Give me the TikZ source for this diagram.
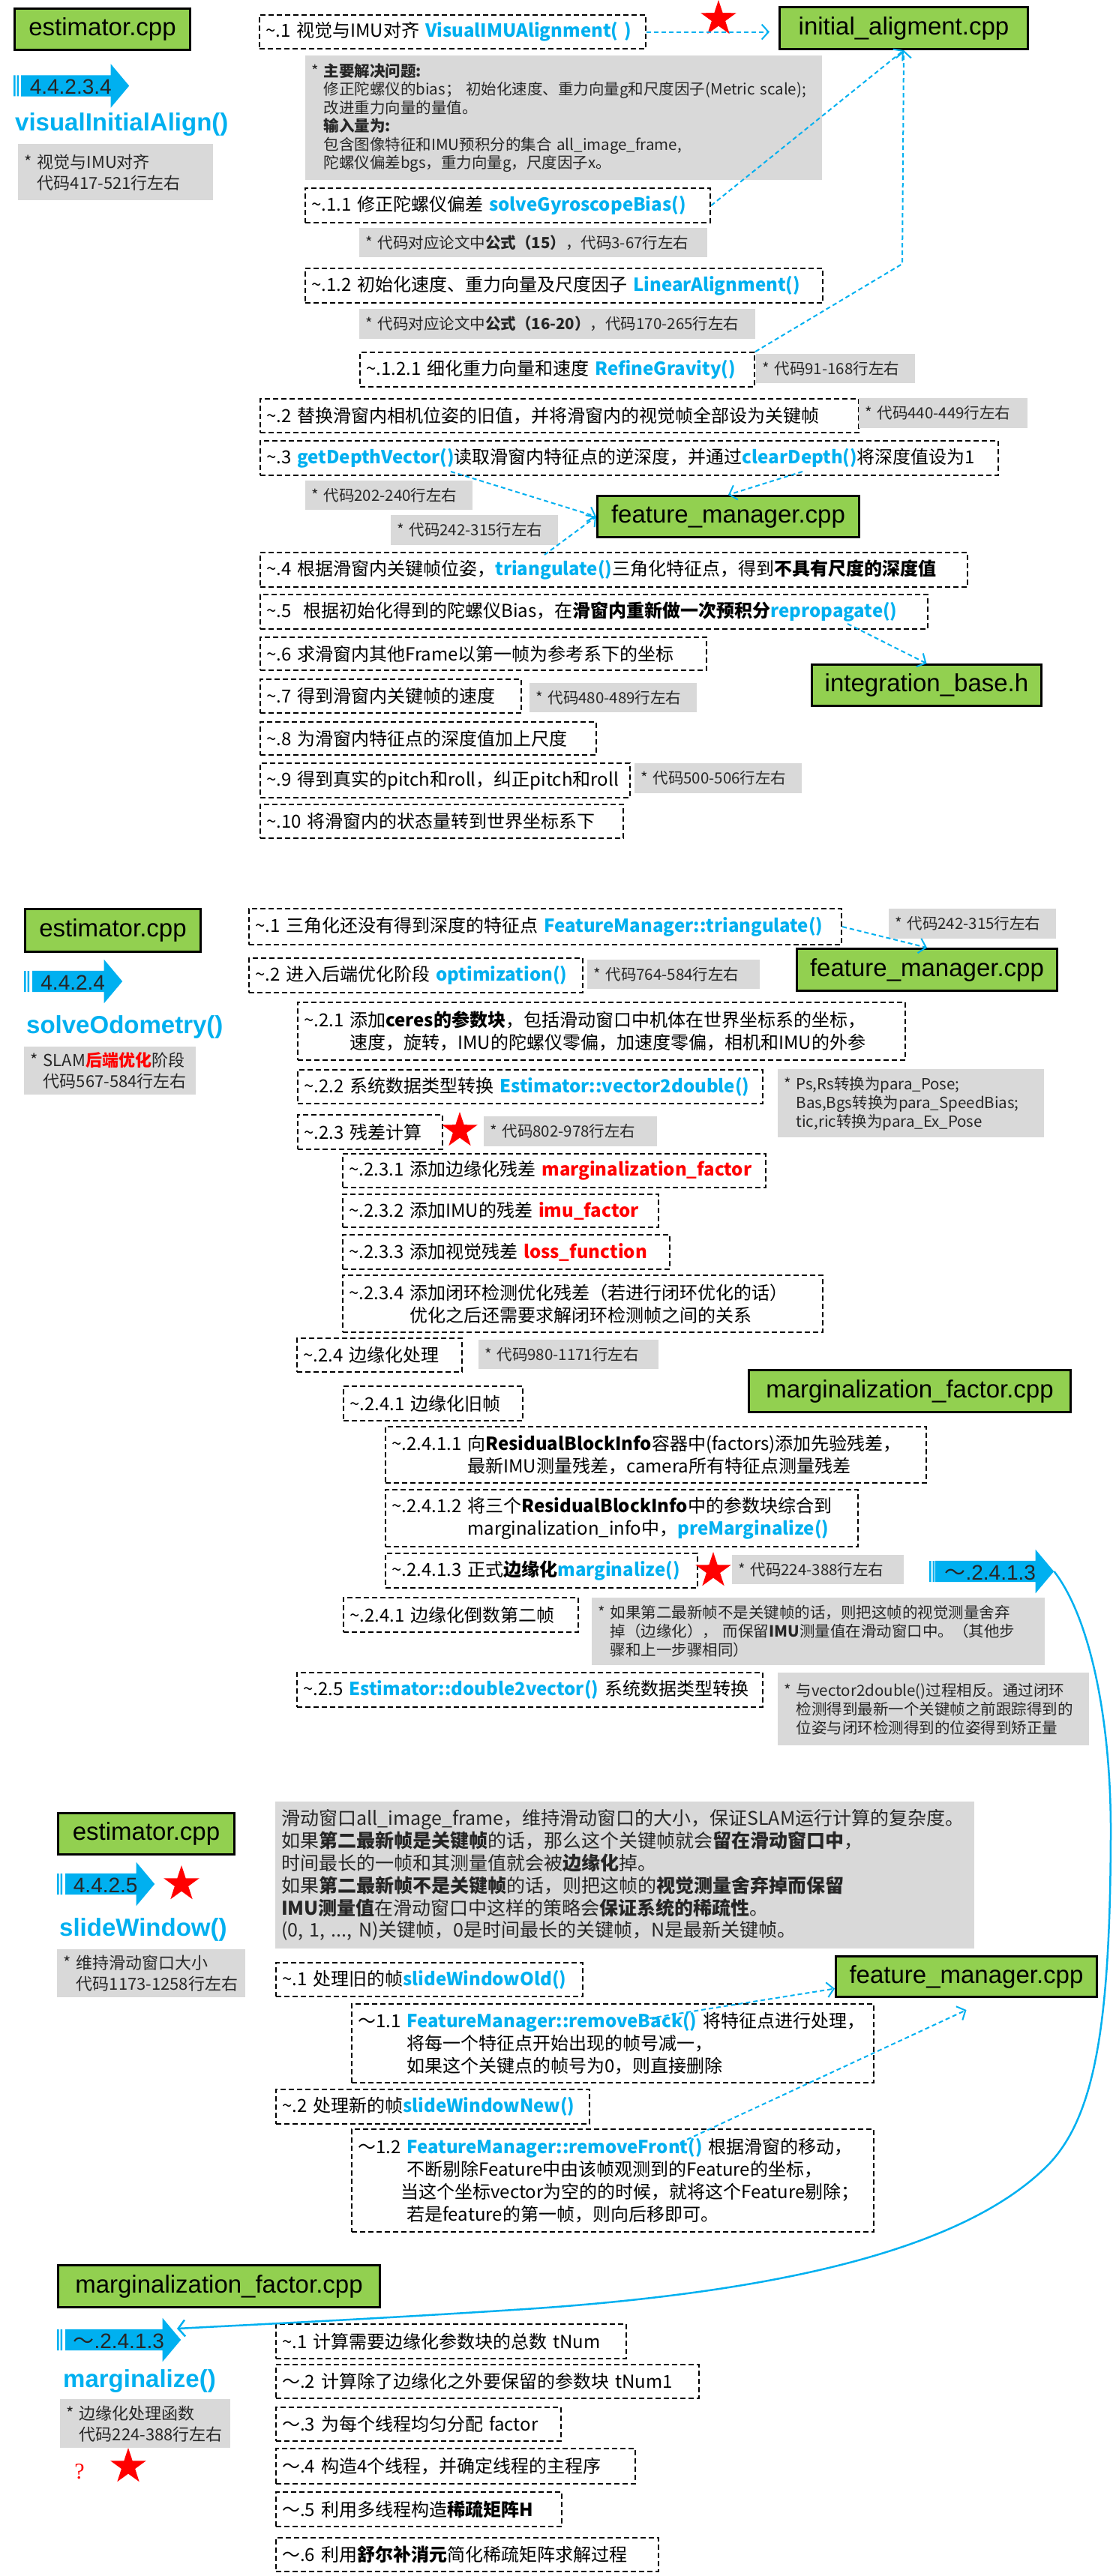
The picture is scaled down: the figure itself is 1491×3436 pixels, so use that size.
\documentclass[tikz,border=0pt]{standalone}
\usepackage{fontspec}
\setmainfont{Noto Sans CJK SC}
\newfontfamily\arialfont{Liberation Sans}
\newfontfamily\qmarkfont{Liberation Serif}
\usetikzlibrary{
  shapes.geometric,
  shapes.arrows,
  arrows.meta,
  positioning,
  calc
}
\definecolor{filegreen}{RGB}{146,208,80}
\definecolor{fnblue}{RGB}{0,176,240}
\definecolor{notegray}{RGB}{217,217,217}
\newcommand{\fname}[1]{\textcolor{fnblue}{\textbf{#1}}}
\newcommand{\rname}[1]{\textcolor{red}{\textbf{#1}}}
\newcommand{\tld}{\textasciitilde}

\begin{document}
\begin{tikzpicture}[
  x=1pt, y=-1pt,
  filebox/.style 2 args={
    draw, line width=3pt, fill=filegreen, anchor=north west,
    minimum width=#1pt, minimum height=#2pt, inner sep=0pt,
    font=\arialfont\fontsize{33}{36}\selectfont
  },
  stepbox/.style={
    draw, line width=2.2pt, dash pattern=on 7pt off 4pt,
    anchor=north west, align=left, inner xsep=8pt, inner ysep=0pt,
    text width=#1pt, minimum height=45pt,
    font=\fontsize{24}{30}\selectfont
  },
  notebox/.style={
    fill=notegray, anchor=north west, align=left,
    inner xsep=8pt, inner ysep=0pt, text width=#1pt, minimum height=39pt,
    text=black!85, font=\fontsize{20.5}{25}\selectfont
  },
  sidenote/.style={notebox=#1, font=\fontsize{22}{28}\selectfont},
  secarrow/.style={
    single arrow, fill=fnblue, anchor=tail, minimum height=#1pt,
    single arrow head extend=15pt, single arrow tip angle=100,
    text height=22pt, text depth=0pt, inner ysep=3pt, inner xsep=4pt,
    text=black!85, font=\arialfont\fontsize{28}{30}\selectfont
  },
  sectitle/.style={
    anchor=west, inner sep=0pt, text=fnblue,
    font=\arialfont\bfseries\fontsize{33}{36}\selectfont
  },
  redstar/.style={
    star, star points=5, star point ratio=2.6, fill=red,
    inner sep=0pt, minimum size=50pt
  },
  conn/.style={
    draw=fnblue, line width=2pt, dash pattern=on 6pt off 4pt,
    -{Straight Barb[length=9pt,width=20pt]}
  },
  jump/.style={
    draw=fnblue, line width=2.5pt,
    -{Straight Barb[length=9pt,width=22pt]}
  }
]
  \path[fill=white, use as bounding box] (0,0) rectangle (1491,3436);

  \node[filebox={234}{55}] (est1) at (18,10) {estimator.cpp};
  \fill[fnblue] (18,100.5) rectangle (20.5,128.5) (22.5,100.5) rectangle (25,128.5);
  \node[secarrow=144] (sec1) at (28,114.5) {4.4.2.3.4};
  \node[sectitle] (title1) at (20,166) {visualInitialAlign()};
  \node[sidenote=244, minimum height=75pt] (side1) at (24,192) {* 视觉与IMU对齐\\\hphantom{*\ }代码417-521行左右};

  \node[stepbox=499] (a1) at (345,19) {\tld.1 视觉与IMU对齐 \fname{VisualIMUAlignment( )}};
  \node[redstar] (star1) at (958,25) {};
  \node[filebox={331}{56}] (initial) at (1038,8) {initial\_aligment.cpp};
  \node[notebox=673, minimum height=166pt, font=\fontsize{20.5}{24.5}\selectfont] (goal1) at (407,74) {* \textbf{主要解决问题:}\\
    \hphantom{*\ }修正陀螺仪的bias； 初始化速度、重力向量g和尺度因子(Metric scale);\\
    \hphantom{*\ }改进重力向量的量值。\\
    \hphantom{*\ }\textbf{输入量为:}\\
    \hphantom{*\ }包含图像特征和IMU预积分的集合 all\_image\_frame,\\
    \hphantom{*\ }陀螺仪偏差bgs，重力向量g，尺度因子x。};
  \node[stepbox=524, minimum height=46pt] (a11) at (406,250) {\tld.1.1 修正陀螺仪偏差 \fname{solveGyroscopeBias()}};
  \node[notebox=448] (c11) at (479,304) {* 代码对应论文中\textbf{公式（15）}，代码3-67行左右};
  \node[stepbox=674, minimum height=46pt] (a12) at (406,357) {\tld.1.2 初始化速度、重力向量及尺度因子 \fname{LinearAlignment()}};
  \node[notebox=512, minimum height=40pt] (c12) at (479,412) {* 代码对应论文中\textbf{公式（16-20）}，代码170-265行左右};
  \node[stepbox=510, minimum height=46pt] (a121) at (479,469) {\tld.1.2.1 细化重力向量和速度 \fname{RefineGravity()}};
  \node[notebox=196] (c121) at (1008,472) {* 代码91-168行左右};
  \node[stepbox=782] (a2) at (346,531) {\tld.2 替换滑窗内相机位姿的旧值，并将滑窗内的视觉帧全部设为关键帧};
  \node[notebox=209, minimum height=40pt] (c2) at (1145,531) {* 代码440-449行左右};
  \node[stepbox=968, minimum height=46pt] (a3) at (346,587) {\tld.3 \fname{getDepthVector()}读取滑窗内特征点的逆深度，并通过\fname{clearDepth()}将深度值设为1};
  \node[notebox=207] (c3a) at (407,641) {* 代码202-240行左右};
  \node[notebox=207, minimum height=40pt] (c3b) at (521,687) {* 代码242-315行左右};
  \node[filebox={349}{55}] (feat1) at (795,660) {feature\_manager.cpp};
  \node[stepbox=927, minimum height=46pt] (a4) at (346,736) {\tld.4 根据滑窗内关键帧位姿，\fname{triangulate()}三角化特征点，得到\textbf{不具有尺度的深度值}};
  \node[stepbox=874, minimum height=46pt] (a5) at (346,792) {\tld.5 \ 根据初始化得到的陀螺仪Bias，在\textbf{滑窗内重新做一次预积分}\fname{repropagate()}};
  \node[filebox={306}{55}] (integ) at (1081,885) {integration\_base.h};
  \node[stepbox=579, minimum height=44pt] (a6) at (346,849) {\tld.6 求滑窗内其他Frame以第一帧为参考系下的坐标};
  \node[stepbox=332] (a7) at (346,905) {\tld.7 得到滑窗内关键帧的速度};
  \node[notebox=207] (c7) at (706,911) {* 代码480-489行左右};
  \node[stepbox=432, minimum height=44pt] (a8) at (346,962) {\tld.8 为滑窗内特征点的深度值加上尺度};
  \node[stepbox=477, minimum height=46pt] (a9) at (346,1017) {\tld.9 得到真实的pitch和roll，纠正pitch和roll};
  \node[notebox=207, minimum height=40pt] (c9) at (846,1018) {* 代码500-506行左右};
  \node[stepbox=468] (a10) at (346,1072) {\tld.10 将滑窗内的状态量转到世界坐标系下};

  \coordinate (bend1) at (1203,352);
  \coordinate (fromgdv) at (601,629);
  \coordinate (fromcd) at (1070,629);
  \coordinate (fromtri) at (726,740);
  \coordinate (fromrep) at (1130,832);
  \draw[conn, shorten >=12pt] (a1.east) -- (a1.east -| initial.west);
  \draw[conn] (a11.east) -- (initial.south);
  \draw[conn] (a121.north east) -- (bend1) -- (initial.south);
  \draw[conn] (fromgdv) -- (feat1.west);
  \draw[conn] (fromtri) -- (feat1.west);
  \draw[conn] (fromcd) -- (feat1.north);
  \draw[conn] (fromrep) -- (integ.north);

  \node[filebox={234}{57}] (est2) at (32,1211) {estimator.cpp};
  \fill[fnblue] (32,1295) rectangle (34.5,1323) (36.5,1295) rectangle (39,1323);
  \node[secarrow=120] (sec2) at (43,1309) {4.4.2.4};
  \node[sectitle] (title2) at (35,1370) {solveOdometry()};
  \node[sidenote=213, minimum height=64pt] (side2) at (32,1396) {* SLAM\textcolor{red}{\textbf{后端优化}}阶段\\\hphantom{*\ }代码567-584行左右};

  \node[stepbox=774, minimum height=48pt] (b1) at (331,1211) {\tld.1 三角化还没有得到深度的特征点 \fname{FeatureManager::triangulate()}};
  \node[notebox=207, minimum height=40pt] (d1) at (1185,1212) {* 代码242-315行左右};
  \node[filebox={347}{56}] (feat2) at (1061,1264) {feature\_manager.cpp};
  \node[stepbox=429, minimum height=46pt] (b2) at (331,1277) {\tld.2 进入后端优化阶段 \fname{optimization()}};
  \node[notebox=214] (d2) at (783,1280) {* 代码764-584行左右};
  \node[stepbox=794, minimum height=77pt] (b21) at (396,1336) {\tld.2.1 添加\textbf{ceres的参数块}，包括滑动窗口中机体在世界坐标系的坐标，\\
    \hphantom{\tld.2.1\ }速度，旋转，IMU的陀螺仪零偏，加速度零偏，相机和IMU的外参};
  \node[stepbox=604] (b22) at (396,1426) {\tld.2.2 系统数据类型转换 \fname{Estimator::vector2double()}};
  \node[notebox=339, minimum height=91pt] (d22) at (1037,1426) {* Ps,Rs转换为para\_Pose;\\
    \hphantom{*\ }Bas,Bgs转换为para\_SpeedBias;\\
    \hphantom{*\ }tic,ric转换为para\_Ex\_Pose};
  \node[stepbox=177, minimum height=46pt] (b23) at (396,1486) {\tld.2.3 残差计算};
  \node[redstar] (star2) at (613,1508) {};
  \node[notebox=215, minimum height=40pt] (d23) at (645,1489) {* 代码802-978行左右};
  \node[stepbox=548] (b231) at (456,1538) {\tld.2.3.1 添加边缘化残差 \rname{marginalization\_factor}};
  \node[stepbox=405, minimum height=44pt] (b232) at (456,1592) {\tld.2.3.2 添加IMU的残差 \rname{imu\_factor}};
  \node[stepbox=420, minimum height=46pt] (b233) at (456,1646) {\tld.2.3.3 添加视觉残差 \rname{loss\_function}};
  \node[stepbox=624, minimum height=76pt] (b234) at (456,1700) {\tld.2.3.4 添加闭环检测优化残差（若进行闭环优化的话）\\
    \hphantom{\tld.2.3.4\ }优化之后还需要求解闭环检测帧之间的关系};
  \node[stepbox=204] (b24) at (395,1784) {\tld.2.4 边缘化处理};
  \node[notebox=224] (d24) at (638,1787) {* 代码980-1171行左右};
  \node[filebox={429}{56}] (marg2) at (997,1826) {marginalization\_factor.cpp};
  \node[stepbox=223, minimum height=46pt] (b241) at (457,1848) {\tld.2.4.1 边缘化旧帧};
  \node[stepbox=705, minimum height=75pt] (b2411) at (513,1902) {\tld.2.4.1.1 向\textbf{ResidualBlockInfo}容器中(factors)添加先验残差，\\
    \hphantom{\tld.2.4.1.1\ }最新IMU测量残差，camera所有特征点测量残差};
  \node[stepbox=614, minimum height=76pt] (b2412) at (513,1986) {\tld.2.4.1.2 将三个\textbf{ResidualBlockInfo}中的参数块综合到\\
    \hphantom{\tld.2.4.1.2\ }marginalization\_info中，\fname{preMarginalize()}};
  \node[stepbox=400, minimum height=46pt] (b2413) at (513,2071) {\tld.2.4.1.3 正式\textbf{边缘化}\fname{marginalize()}};
  \node[redstar] (star3) at (951,2095) {};
  \node[notebox=213] (d2413) at (976,2074) {* 代码224-388行左右};
  \fill[fnblue] (1239,2082) rectangle (1241.5,2110) (1243.5,2082) rectangle (1246,2110);
  \node[secarrow=158] (jumpfrom) at (1247,2096) {{\normalfont ～}.2.4.1.3};
  \node[stepbox=297, minimum height=46pt] (b242) at (457,2130) {\tld.2.4.1 边缘化倒数第二帧};
  \node[notebox=588, minimum height=90pt] (d242) at (789,2131) {* 如果第二最新帧不是关键帧的话，则把这帧的视觉测量舍弃\\
    \hphantom{*\ }掉（边缘化）， 而保留\textbf{IMU}测量值在滑动窗口中。（其他步\\
    \hphantom{*\ }骤和上一步骤相同）};
  \node[stepbox=605, minimum height=46pt] (b25) at (395,2230) {\tld.2.5 \fname{Estimator::double2vector()} 系统数据类型转换};
  \node[notebox=399, minimum height=97pt] (d25) at (1037,2231) {* 与vector2double()过程相反。通过闭环\\
    \hphantom{*\ }检测得到最新一个关键帧之前跟踪得到的\\
    \hphantom{*\ }位姿与闭环检测得到的位姿得到矫正量};

  \draw[conn] (b1.east) -- (feat2.north);

  \node[filebox={235}{55}] (est3) at (76,2417) {estimator.cpp};
  \fill[fnblue] (76,2499) rectangle (78.5,2527) (80.5,2499) rectangle (83,2527);
  \node[secarrow=119] (sec3) at (87,2513) {4.4.2.5};
  \node[redstar] (star4) at (242,2513) {};
  \node[sectitle] (title3) at (79,2574) {slideWindow()};
  \node[sidenote=235, minimum height=64pt] (side3) at (76,2600) {* 维持滑动窗口大小\\\hphantom{*\ }代码1173-1258行左右};

  \node[notebox=916, minimum height=196pt, font=\fontsize{25}{29.8}\selectfont] (goal3) at (367,2403) {滑动窗口all\_image\_frame，维持滑动窗口的大小，保证SLAM运行计算的复杂度。\\
    如果\textbf{第二最新帧是关键帧}的话，那么这个关键帧就会\textbf{留在滑动窗口中}，\\
    时间最长的一帧和其测量值就会被\textbf{边缘化}掉。\\
    如果\textbf{第二最新帧不是关键帧}的话，则把这帧的\textbf{视觉测量舍弃掉而保留}\\
    \textbf{IMU测量值}在滑动窗口中这样的策略会\textbf{保证系统的稀疏性}。\\
    (0, 1, ..., N)关键帧，0是时间最长的关键帧，N是最新关键帧。};
  \node[stepbox=393] (e1) at (367,2617) {\tld.1 处理旧的帧\fname{slideWindowOld()}};
  \node[filebox={348}{54}] (feat3) at (1113,2608) {feature\_manager.cpp};
  \node[stepbox=680, minimum height=105pt] (e11) at (468,2672) {～1.1 \fname{FeatureManager::removeBack()} 将特征点进行处理，\\
    \hphantom{～1.1\ }将每一个特征点开始出现的帧号减一，\\
    \hphantom{～1.1\ }如果这个关键点的帧号为0，则直接删除};
  \node[stepbox=402, minimum height=46pt] (e2) at (367,2786) {\tld.2 处理新的帧\fname{slideWindowNew()}};
  \node[stepbox=680, minimum height=137pt] (e12) at (468,2839) {～1.2 \fname{FeatureManager::removeFront()} 根据滑窗的移动，\\
    \hphantom{～1.2\ }不断剔除Feature中由该帧观测到的Feature的坐标，\\
    \hphantom{～1.2}当这个坐标vector为空的的时候，就将这个Feature剔除；\\
    \hphantom{～1.2\ }若是feature的第一帧，则向后移即可。};

  \coordinate (fromback) at (866,2692);
  \coordinate (fromfront) at (907,2858);
  \draw[conn] (fromback) -- ([yshift=-16pt]feat3.west);
  \draw[conn] (fromfront) -- ([yshift=-16pt]feat3.south);

  \node[filebox={429}{56}] (marg4) at (76,3020) {marginalization\_factor.cpp};
  \fill[fnblue] (76,3107) rectangle (78.5,3135) (80.5,3107) rectangle (83,3135);
  \node[secarrow=154] (sec4) at (87,3121) {{\normalfont ～}.2.4.1.3};
  \node[sectitle] (title4) at (84,3176) {marginalize()};
  \node[sidenote=211, minimum height=65pt] (side4) at (80,3200) {* 边缘化处理函数\\\hphantom{*\ }代码224-388行左右};
  \node[text=red, font=\qmarkfont\fontsize{30}{30}\selectfont] (ask) at (106,3297) {?};
  \node[redstar] (star5) at (171,3290) {};

  \node[stepbox=451, minimum height=46pt] (f1) at (367,3099) {\tld.1 计算需要边缘化参数块的总数 tNum};
  \node[stepbox=548] (f2) at (367,3153) {～.2 计算除了边缘化之外要保留的参数块 tNum1};
  \node[stepbox=364] (f3) at (367,3210) {～.3 为每个线程均匀分配 factor};
  \node[stepbox=463, minimum height=47pt] (f4) at (367,3265) {～.4 构造4个线程，并确定线程的主程序};
  \node[stepbox=365, minimum height=46pt] (f5) at (367,3323) {～.5 利用多线程构造\textbf{稀疏矩阵H}};
  \node[stepbox=494] (f6) at (367,3384) {～.6 利用\textbf{舒尔补消元}简化稀疏矩阵求解过程};

  \coordinate (jumpto) at (236,3106);
  \draw[jump] (jumpfrom.tip) .. controls (1455,2160) and (1482,2300) .. (1481,2450)
    .. controls (1480,2700) and (1460,2820) .. (1400,2885)
    .. controls (1280,3010) and (1000,3060) .. (700,3080)
    .. controls (500,3093) and (350,3100) .. (jumpto);
\end{tikzpicture}
\end{document}
